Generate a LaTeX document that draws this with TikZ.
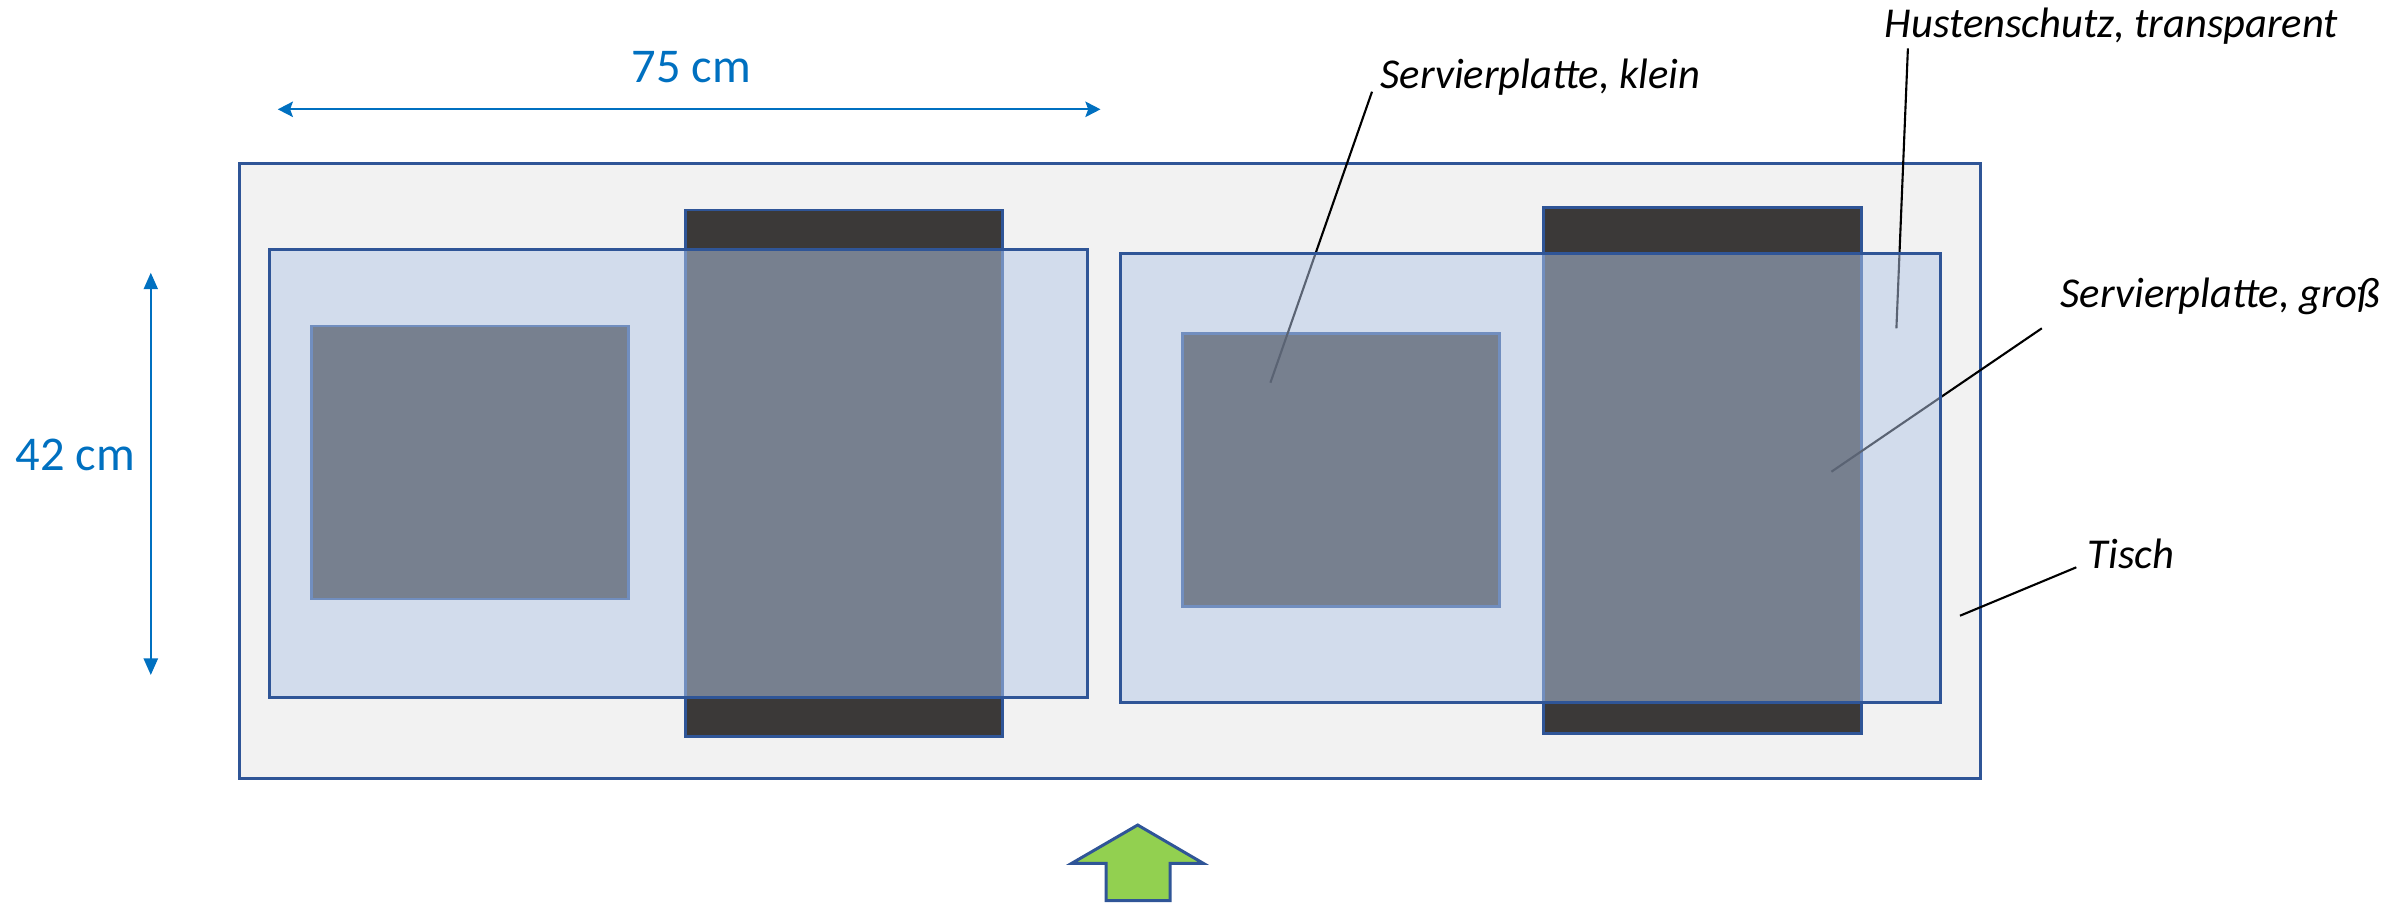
\documentclass[tikz,border=0pt]{standalone}
\usepackage{fontspec}
\setmainfont{Carlito}
\usetikzlibrary{arrows.meta}
\definecolor{tablefill}{HTML}{F2F2F2}
\definecolor{bord}{HTML}{2F5597}
\definecolor{darkplate}{HTML}{3B3938}
\definecolor{glass}{HTML}{B4C7E7}
\definecolor{dimblue}{HTML}{0070C0}
\definecolor{entrygreen}{HTML}{92D050}
\tikzset{
  tablebox/.style={fill=tablefill,draw=bord,line width=0.85pt},
  platebox/.style={fill=darkplate,draw=bord,line width=0.75pt},
  glassbox/.style={fill=glass,fill opacity=0.5,draw=bord,draw opacity=1,line width=0.85pt},
  leader/.style={draw=black,line width=0.6pt},
  lbl/.style={inner sep=0pt,anchor=base west,font=\fontsize{12.1}{14}\selectfont\itshape},
  dimlbl/.style={inner sep=0pt,anchor=base west,text=dimblue,font=\fontsize{13.8}{16}\selectfont},
  dimh/.style={draw=dimblue,line width=0.6pt,{Stealth[length=4.3pt,width=4.4pt,inset=0.8pt]}-{Stealth[length=4.3pt,width=4.4pt,inset=0.8pt]}},
  dimv/.style={draw=dimblue,line width=0.6pt,{Triangle[length=4.7pt,width=4pt]}-{Triangle[length=4.7pt,width=4pt]}},
  entry/.style={fill=entrygreen,draw=bord,line width=0.85pt,line join=miter}
}
\begin{document}
\begin{tikzpicture}[x=0.01cm,y=-0.01cm]
\useasboundingbox (0,0) rectangle (2397,902);
% table
\draw[tablebox] (239.5,163.3) rectangle (1980.6,778.3);
% plates (under the cover)
\draw[platebox] (685.7,210) rectangle (1002.5,736.7);
\draw[platebox] (1543.6,207.3) rectangle (1861.2,733.3);
\draw[platebox] (311.5,326) rectangle (628.3,599);
\draw[platebox] (1182.4,333.3) rectangle (1499.2,606.7);
% labels
\node[lbl] (klein) at (1380,88) {Servierplatte, klein};
\node[lbl] (husten) at (1884,37.5) {Hustenschutz, transparent};
\node[lbl] (gross) at (2060,307) {Servierplatte, groß};
\node[lbl] (tisch) at (2087,568) {Tisch};
\coordinate (kleinA) at (1372,91.7);
\coordinate (kleinB) at (1270.4,382.7);
\coordinate (hustenA) at (1907.9,48.3);
\coordinate (hustenB) at (1896.4,328.3);
\coordinate (grossA) at (2041.8,328.3);
\coordinate (grossB) at (1831.4,471.7);
\coordinate (tischA) at (2076.3,567.3);
\coordinate (tischB) at (1960,615.7);
\draw[leader] (kleinA) -- (kleinB);
\draw[leader] (hustenA) -- (hustenB);
\draw[leader] (grossA) -- (grossB);
\draw[leader] (tischA) -- (tischB);
% transparent covers
\draw[glassbox] (269.4,249) rectangle (1087.5,697.3);
\draw[glassbox] (1120.4,253.3) rectangle (1940.8,702);
% dimensions
\node[dimlbl] (w) at (631,82) {75 cm};
\node[dimlbl] (h) at (15,470) {42 cm};
\coordinate (wL) at (277.8,109.3);
\coordinate (wR) at (1100.5,109.3);
\coordinate (hT) at (150.8,272.7);
\coordinate (hB) at (150.8,675);
\draw[dimh] (wL) -- (wR);
\draw[dimv] (hT) -- (hB);
% entry arrow
\draw[entry] (1137.7,825) -- (1203.3,863.3) -- (1170,863.3) -- (1170,900.5) -- (1106,900.5) -- (1106,863.3) -- (1071.7,863.3) -- cycle;
\end{tikzpicture}
\end{document}
